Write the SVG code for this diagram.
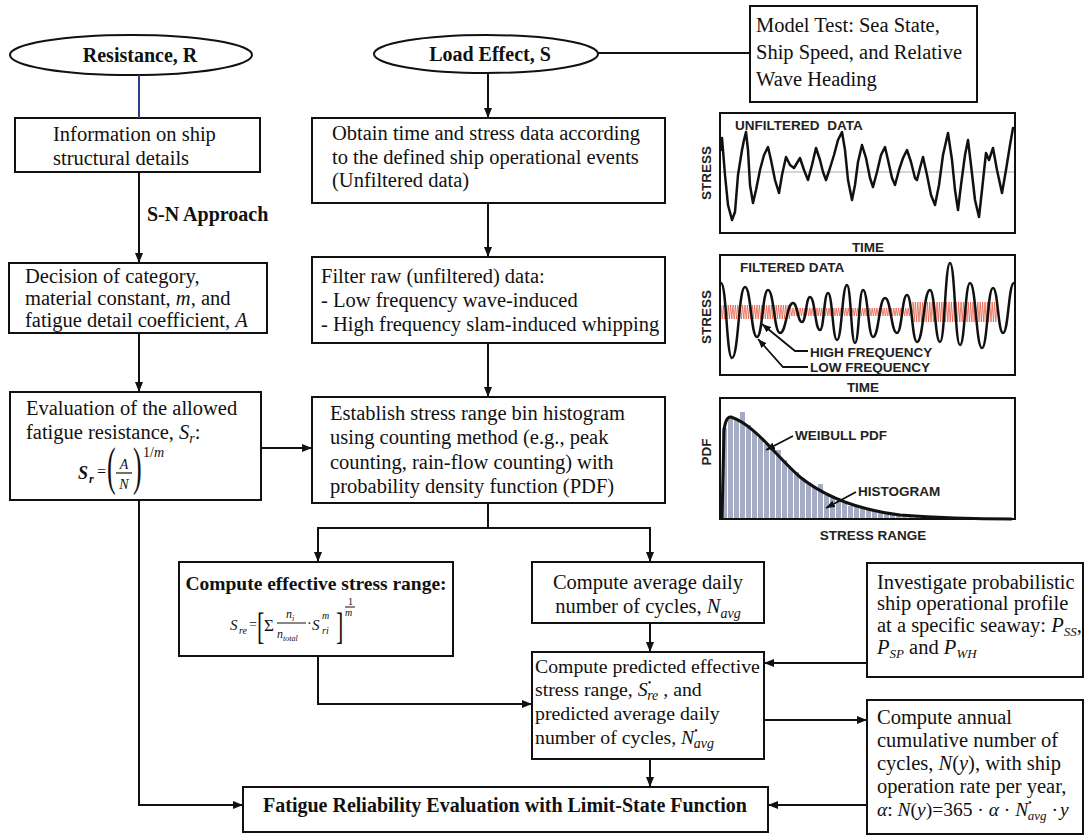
<svg xmlns="http://www.w3.org/2000/svg" width="1086" height="838" viewBox="0 0 1086 838">
<defs>
<marker id="ah" markerUnits="userSpaceOnUse" markerWidth="10" markerHeight="8" refX="10" refY="4" orient="auto"><path d="M0,0 L10,4 L0,8 z" fill="#111"/></marker>
<marker id="ahs" markerUnits="userSpaceOnUse" markerWidth="9" markerHeight="7" refX="9" refY="3.5" orient="auto"><path d="M0,0 L9,3.5 L0,7 z" fill="#111"/></marker>
</defs>
<style>
.box{fill:#fff;stroke:#111;stroke-width:2}
.t{font-family:"Liberation Serif","Times New Roman",serif;font-size:20.5px;fill:#111}
.b{font-weight:bold}
.i{font-style:italic}
.c{font-family:"Liberation Sans",Arial,sans-serif;font-weight:bold;font-size:13.5px;fill:#222}
.conn{fill:none;stroke:#111;stroke-width:2}
.fr{fill:none;stroke:#111;stroke-width:2}
.sig{fill:none;stroke:#111;stroke-width:2.5;stroke-linejoin:round;stroke-linecap:round}
.bar{fill:#a7acc5}
</style>
<rect width="1086" height="838" fill="#fff"/>

<g id="resistance">
<ellipse class="box" cx="131" cy="55" rx="121" ry="20"/>
<text class="t b" x="140" y="62" text-anchor="middle" style="font-size:20px">Resistance, R</text>
</g>
<g id="load-effect">
<ellipse class="box" cx="486" cy="54" rx="112" ry="19"/>
<text class="t b" x="490" y="61" text-anchor="middle" style="font-size:20px">Load Effect, S</text>
</g>
<g id="model-test">
<rect class="box" x="750" y="6" width="227" height="96"/>
<text class="t" x="756" y="32">Model Test: Sea State,</text>
<text class="t" x="756" y="59">Ship Speed, and Relative</text>
<text class="t" x="756" y="86">Wave Heading</text>
</g>
<g id="info">
<rect class="box" x="15" y="118" width="245" height="54"/>
<text class="t" x="53" y="141">Information on ship</text>
<text class="t" x="53" y="165">structural details</text>
</g>
<g id="decision">
<rect class="box" x="9" y="263" width="258" height="70"/>
<text class="t" x="25" y="283">Decision of category,</text>
<text class="t" x="25" y="305">material constant, <tspan class="i">m</tspan>, and</text>
<text class="t" x="25" y="327">fatigue detail coefficient, <tspan class="i">A</tspan></text>
</g>
<g id="evaluation">
<rect class="box" x="10" y="392" width="251" height="108"/>
<text class="t" x="26" y="415">Evaluation of the allowed</text>
<text class="t" x="26" y="439">fatigue resistance, <tspan class="i">S</tspan><tspan class="i" font-size="14" dy="4">r</tspan><tspan dy="-4">:</tspan></text>
<text class="t i b" x="78" y="479" style="font-size:18px">S</text>
<text class="t i b" x="89" y="483" style="font-size:12px">r</text>
<text class="t" x="97" y="477" style="font-size:16px">=</text>
<text class="t" style="font-size:26px" transform="translate(107 484) scale(1 2)">(</text>
<text class="t i" x="124" y="469" text-anchor="middle" style="font-size:14px">A</text>
<line x1="116" y1="473" x2="132" y2="473" stroke="#111" stroke-width="1.2"/>
<text class="t i" x="124" y="489" text-anchor="middle" style="font-size:14px">N</text>
<text class="t" style="font-size:26px" transform="translate(133 484) scale(1 2)">)</text>
<text class="t" x="143" y="457" style="font-size:14px">1/<tspan class="i">m</tspan></text>
</g>
<g id="obtain">
<rect class="box" x="312" y="118" width="353" height="85"/>
<text class="t" x="332" y="140">Obtain time and stress data according</text>
<text class="t" x="332" y="164">to the defined ship operational events</text>
<text class="t" x="332" y="187">(Unfiltered data)</text>
</g>
<g id="filter">
<rect class="box" x="312" y="257" width="353" height="86"/>
<text class="t" x="321" y="283">Filter raw (unfiltered) data:</text>
<text class="t" x="321" y="307">- Low frequency wave-induced</text>
<text class="t" x="321" y="331">- High frequency slam-induced whipping</text>
</g>
<g id="establish">
<rect class="box" x="312" y="397" width="353" height="106"/>
<text class="t" x="330" y="420">Establish stress range bin histogram</text>
<text class="t" x="330" y="444">using counting method (e.g., peak</text>
<text class="t" x="330" y="469">counting, rain-flow counting) with</text>
<text class="t" x="330" y="493">probability density function (PDF)</text>
</g>
<g id="effective">
<rect class="box" x="179" y="562" width="274" height="94"/>
<text class="t b" x="316" y="590" text-anchor="middle" style="font-size:19.5px">Compute effective stress range:</text>
<text class="t i" x="230" y="630" style="font-size:15px">S</text>
<text class="t i" x="239" y="634" style="font-size:10px">re</text>
<text class="t" x="249" y="629" style="font-size:14px">=</text>
<text class="t" style="font-size:22px" transform="translate(257 639) scale(1 1.7)">[</text>
<text class="t" x="264" y="631" style="font-size:17px">Σ</text>
<text class="t i" x="286" y="618" style="font-size:12px">n<tspan font-size="8" dy="3">i</tspan></text>
<line x1="277" y1="623" x2="306" y2="623" stroke="#111" stroke-width="1"/>
<text class="t i" x="277" y="638" style="font-size:12px">n<tspan font-size="8" dy="3">total</tspan></text>
<text class="t" x="307" y="628" style="font-size:14px">·</text>
<text class="t i" x="312" y="630" style="font-size:15px">S</text>
<text class="t i" x="322" y="619" style="font-size:10px">m</text>
<text class="t i" x="322" y="634" style="font-size:10px">ri</text>
<text class="t" style="font-size:22px" transform="translate(336 639) scale(1 1.7)">]</text>
<text class="t" x="348" y="605" style="font-size:10px">1</text>
<line x1="345" y1="607" x2="355" y2="607" stroke="#111" stroke-width="1"/>
<text class="t i" x="345" y="616" style="font-size:10px">m</text>
</g>
<g id="average">
<rect class="box" x="532" y="562" width="232" height="61"/>
<text class="t" x="648" y="589" text-anchor="middle">Compute average daily</text>
<text class="t" x="648" y="613" text-anchor="middle">number of cycles, <tspan class="i">N</tspan><tspan class="i" font-size="14" dy="5">avg</tspan></text>
</g>
<g id="predicted">
<rect class="box" x="532" y="652" width="232" height="107"/>
<text class="t" x="535" y="673" style="font-size:19.8px">Compute predicted effective</text>
<text class="t" x="535" y="696" style="font-size:19.8px">stress range, <tspan class="i">S</tspan><tspan font-size="10" dy="-10">•</tspan><tspan class="i" font-size="14" dx="-4" dy="14">re</tspan><tspan dy="-4"> , and</tspan></text>
<text class="t" x="535" y="720" style="font-size:19.8px">predicted average daily</text>
<text class="t" x="535" y="744" style="font-size:19.8px">number of cycles, <tspan class="i">N</tspan><tspan font-size="10" dy="-10">•</tspan><tspan class="i" font-size="14" dx="-4" dy="14">avg</tspan></text>
</g>
<g id="investigate">
<rect class="box" x="867" y="563" width="216" height="114"/>
<text class="t" x="877" y="589">Investigate probabilistic</text>
<text class="t" x="877" y="610">ship operational profile</text>
<text class="t" x="877" y="632">at a specific seaway: <tspan class="i">P</tspan><tspan class="i" font-size="13" dy="4">SS</tspan><tspan dy="-4">,</tspan></text>
<text class="t" x="877" y="654"><tspan class="i">P</tspan><tspan class="i" font-size="13" dy="4">SP</tspan><tspan dy="-4"> and </tspan><tspan class="i">P</tspan><tspan class="i" font-size="13" dy="4">WH</tspan></text>
</g>
<g id="annual">
<rect class="box" x="867" y="700" width="216" height="134"/>
<text class="t" x="877" y="724">Compute annual</text>
<text class="t" x="877" y="747">cumulative number of</text>
<text class="t" x="877" y="770">cycles, <tspan class="i">N</tspan>(<tspan class="i">y</tspan>), with ship</text>
<text class="t" x="877" y="793">operation rate per year,</text>
<text class="t" x="877" y="816" style="font-size:19.5px"><tspan class="i">α</tspan>: <tspan class="i">N</tspan>(<tspan class="i">y</tspan>)=365 · <tspan class="i">α</tspan> · <tspan class="i">N</tspan><tspan font-size="10" dy="-10">•</tspan><tspan class="i" font-size="13" dx="-4" dy="14">avg</tspan><tspan dy="-4"> ·</tspan><tspan class="i" dx="2">y</tspan></text>
</g>
<g id="fatigue">
<rect class="box" x="243" y="787" width="525" height="45"/>
<text class="t b" x="505" y="812" text-anchor="middle" style="font-size:20px">Fatigue Reliability Evaluation with Limit-State Function</text>
</g>

<g id="chart-unfiltered">
<line x1="721" y1="172" x2="1014" y2="172" stroke="#aaa" stroke-width="1"/>
<polyline class="sig" points="721,150 722,138 725,175 728,205 732,220 735,212 738,175 742,150 744,140 746,132 748,150 750,185 753,203 756,190 760,170 764,155 768,147 771,160 775,180 779,193 782,175 786,157 790,165 794,168 800,158 804,170 808,180 812,165 816,148 820,160 823,172 826,180 830,168 834,155 838,140 842,132 845,150 848,180 852,200 855,185 858,162 862,145 866,158 870,178 873,187 877,172 881,155 885,147 888,160 892,178 895,185 899,170 903,158 907,150 911,162 915,178 917,180 920,168 923,157 927,175 931,195 935,205 939,185 943,155 948,133 952,160 955,190 958,210 961,185 965,155 968,140 971,165 975,200 979,217 982,190 986,153 989,160 993,148 997,170 1002,193 1006,170 1010,145 1013,128"/>
<rect class="fr" x="720" y="113" width="295" height="120"/>
<text class="c" x="735" y="130" word-spacing="4">UNFILTERED DATA</text>
<text class="c" transform="translate(711 173) rotate(-90)" text-anchor="middle">STRESS</text>
<text class="c" x="868" y="252" text-anchor="middle">TIME</text>
</g>

<g id="chart-filtered">
<path fill="none" stroke="#e8533a" stroke-width="0.9" opacity="0.8" d="M721 305 l1.2 14 l1.2 -14 l1.2 14 l1.2 -14 l1.2 14 l1.2 -14 l1.2 14 l1.2 -14 l1.2 14 l1.2 -14 l1.2 14 l1.2 -14 l1.2 14 l1.2 -14 l1.2 14 l1.2 -14 l1.2 14 l1.2 -14 l1.2 14 l1.2 -14 l1.2 14 l1.2 -14 l1.2 14 l1.2 -14 l1.2 14 l1.2 -14 l1.2 14 l1.2 -14 l1.2 14 l1.2 -14 l1.2 14 l1.2 -14 l1.2 14 l1.2 -14 l1.2 14 l1.2 -14 l1.2 14 l1.2 -14 l1.2 14 l1.2 -14 l1.2 14 l1.2 -14 l1.2 14 l1.2 -14 l1.2 14 l1.2 -14 l1.2 14 l1.2 -14 l1.2 14 l1.2 -14 l1.2 14 l1.2 -14 l1.2 14 l1.2 -14 l1.2 14 l1.2 -14 l1.2 14 l1.2 -14 l0 3 l1.2 8 l1.2 -8 l1.2 8 l1.2 -8 l1.2 8 l1.2 -8 l1.2 8 l1.2 -8 l1.2 8 l1.2 -8 l1.2 8 l1.2 -8 l1.2 8 l1.2 -8 l1.2 8 l1.2 -8 l1.2 8 l1.2 -8 l1.2 8 l1.2 -8 l1.2 8 l1.2 -8 l1.2 8 l1.2 -8 l1.2 8 l1.2 -8 l1.2 8 l1.2 -8 l1.2 8 l1.2 -8 l1.2 8 l1.2 -8 l1.2 8 l1.2 -8 l1.2 8 l1.2 -8 l1.2 8 l1.2 -8 l1.2 8 l1.2 -8 l1.2 8 l1.2 -8 l1.2 8 l1.2 -8 l1.2 8 l1.2 -8 l1.2 8 l1.2 -8 l1.2 8 l1.2 -8 l1.2 8 l1.2 -8 l1.2 8 l1.2 -8 l1.2 8 l1.2 -8 l1.2 8 l1.2 -8 l1.2 8 l1.2 -8 l1.2 8 l1.2 -8 l1.2 8 l1.2 -8 l1.2 8 l1.2 -8 l1.2 8 l1.2 -8 l1.2 8 l1.2 -8 l1.2 8 l1.2 -8 l1.2 8 l1.2 -8 l1.2 8 l1.2 -8 l1.2 8 l1.2 -8 l1.2 8 l1.2 -8 l1.2 8 l1.2 -8 l1.2 8 l1.2 -8 l1.2 8 l1.2 -8 l1.2 8 l1.2 -8 l1.2 8 l1.2 -8 l1.2 8 l1.2 -8 l1.2 8 l1.2 -8 l1.2 8 l1.2 -8 l1.2 8 l1.2 -8 l1.2 8 l1.2 -8 l1.2 8 l1.2 -8 l0 -6 l1.2 20 l1.2 -20 l1.2 20 l1.2 -20 l1.2 20 l1.2 -20 l1.2 20 l1.2 -20 l1.2 20 l1.2 -20 l1.2 20 l1.2 -20 l1.2 20 l1.2 -20 l1.2 20 l1.2 -20 l1.2 20 l1.2 -20 l1.2 20 l1.2 -20 l1.2 20 l1.2 -20 l1.2 20 l1.2 -20 l1.2 20 l1.2 -20 l1.2 20 l1.2 -20 l1.2 20 l1.2 -20 l1.2 20 l1.2 -20 l1.2 20 l1.2 -20 l1.2 20 l1.2 -20 l1.2 20 l1.2 -20 l1.2 20 l1.2 -20 l1.2 20 l1.2 -20 l1.2 20 l1.2 -20 l1.2 20 l1.2 -20 l1.2 20 l1.2 -20 l1.2 20 l1.2 -20 l1.2 20 l1.2 -20 l1.2 20 l1.2 -20 l1.2 20 l1.2 -20 l1.2 20 l1.2 -20 l1.2 20 l1.2 -20 l1.2 20 l1.2 -20 l1.2 20 l1.2 -20 l1.2 20 l1.2 -20 l1.2 20 l1.2 -20 l1.2 20 l1.2 -20"/>
<path class="sig" d="M721 283 C726.5 283 726.5 358 732 358 C738.5 358 738.5 287 745 287 C751 287 751 337 757 337 C762.5 337 762.5 290 768 290 C774 290 774 333 780 333 C786.5 333 786.5 303 793 303 C797.5 303 797.5 322 802 322 C806 322 806 297 810 297 C815 297 815 330 820 330 C824 330 824 293 828 293 C832.5 293 832.5 340 837 340 C842 340 842 285 847 285 C851 285 851 343 855 343 C859 343 859 290 863 290 C868 290 868 337 873 337 C879 337 879 298 885 298 C891 298 891 333 897 333 C902 333 902 295 907 295 C912 295 912 342 917 342 C923.5 342 923.5 290 930 290 C935 290 935 342 940 342 C945 342 945 263 950 263 C955 263 955 345 960 345 C965 345 965 283 970 283 C976 283 976 348 982 348 C987.5 348 987.5 288 993 288 C998 288 998 333 1003 333 C1008.5 333 1008.5 283 1014 283"/>
<rect class="fr" x="720" y="255" width="295" height="120"/>
<path d="M808 351 L795 351 L762 324" fill="none" stroke="#111" stroke-width="1.8" marker-end="url(#ahs)"/>
<path d="M808 367 L783 367 L758 339" fill="none" stroke="#111" stroke-width="1.8" marker-end="url(#ahs)"/>
<text class="c" x="740" y="272">FILTERED DATA</text>
<text class="c" x="810" y="357">HIGH FREQUENCY</text>
<text class="c" x="810" y="372">LOW FREQUENCY</text>
<text class="c" transform="translate(711 317) rotate(-90)" text-anchor="middle">STRESS</text>
<text class="c" x="863" y="392" text-anchor="middle">TIME</text>
</g>

<g id="chart-pdf">
<rect class="bar" x="722" y="428" width="5" height="91"/>
<rect class="bar" x="728" y="417" width="5" height="102"/>
<rect class="bar" x="734" y="419" width="5" height="100"/>
<rect class="bar" x="740" y="412" width="5" height="107"/>
<rect class="bar" x="746" y="425" width="5" height="94"/>
<rect class="bar" x="752" y="432" width="5" height="87"/>
<rect class="bar" x="758" y="438" width="5" height="81"/>
<rect class="bar" x="764" y="444" width="5" height="75"/>
<rect class="bar" x="770" y="448" width="5" height="71"/>
<rect class="bar" x="776" y="450" width="5" height="69"/>
<rect class="bar" x="782" y="460" width="5" height="59"/>
<rect class="bar" x="788" y="468" width="5" height="51"/>
<rect class="bar" x="794" y="472" width="5" height="47"/>
<rect class="bar" x="800" y="478" width="5" height="41"/>
<rect class="bar" x="806" y="482" width="5" height="37"/>
<rect class="bar" x="812" y="487" width="5" height="32"/>
<rect class="bar" x="818" y="484" width="5" height="35"/>
<rect class="bar" x="824" y="495" width="5" height="24"/>
<rect class="bar" x="830" y="498" width="5" height="21"/>
<rect class="bar" x="836" y="501" width="5" height="18"/>
<rect class="bar" x="842" y="503" width="5" height="16"/>
<rect class="bar" x="848" y="506" width="5" height="13"/>
<rect class="bar" x="854" y="507" width="5" height="12"/>
<rect class="bar" x="860" y="509" width="5" height="10"/>
<rect class="bar" x="866" y="510" width="5" height="9"/>
<rect class="bar" x="872" y="511" width="5" height="8"/>
<rect class="bar" x="878" y="512" width="5" height="7"/>
<rect class="bar" x="884" y="513" width="5" height="6"/>
<rect class="bar" x="890" y="514" width="5" height="5"/>
<rect class="bar" x="896" y="514" width="5" height="5"/>
<rect class="bar" x="902" y="515" width="5" height="4"/>
<rect class="bar" x="908" y="515" width="5" height="4"/>
<rect class="bar" x="914" y="516" width="5" height="3"/>
<rect class="bar" x="920" y="515" width="5" height="4"/>
<rect class="bar" x="926" y="516" width="5" height="3"/>
<rect class="bar" x="932" y="516" width="5" height="3"/>
<rect class="bar" x="938" y="517" width="5" height="2"/>
<rect class="bar" x="944" y="517" width="5" height="2"/>
<rect class="bar" x="950" y="517" width="5" height="2"/>
<rect class="bar" x="956" y="517" width="5" height="2"/>
<rect class="bar" x="962" y="518" width="5" height="1"/>
<rect class="bar" x="968" y="518" width="5" height="1"/>
<rect class="bar" x="974" y="518" width="5" height="1"/>
<rect class="bar" x="980" y="518" width="5" height="1"/>
<path d="M722 519 L724 430 Q726 416 731 417 C755 425 775 455 800 477 C825 497 860 510 900 515 C940 518 980 519 1012 519" fill="none" stroke="#111" stroke-width="3" stroke-linejoin="round"/>
<rect class="fr" x="720" y="398" width="295" height="121"/>
<path d="M793 436 L766 450" fill="none" stroke="#111" stroke-width="1.8" marker-end="url(#ahs)"/>
<path d="M856 492 L826 508" fill="none" stroke="#111" stroke-width="1.8" marker-end="url(#ahs)"/>
<text class="c" x="795" y="440">WEIBULL PDF</text>
<text class="c" x="858" y="496">HISTOGRAM</text>
<text class="c" transform="translate(711 452) rotate(-90)" text-anchor="middle">PDF</text>
<text class="c" x="873" y="540" text-anchor="middle">STRESS RANGE</text>
</g>

<g id="connectors">
<path d="M139 75 V118" fill="none" stroke="#2b3f8f" stroke-width="2"/>
<path class="conn" d="M139 172 V263" marker-end="url(#ah)"/>
<text class="t b" x="147" y="221" style="font-size:20px">S-N Approach</text>
<path class="conn" d="M139 333 V392" marker-end="url(#ah)"/>
<path class="conn" d="M261 448 H312" marker-end="url(#ah)"/>
<path class="conn" d="M139 500 V805 H243" marker-end="url(#ah)"/>
<path class="conn" d="M598 53 H750"/>
<path class="conn" d="M488 73 V118" marker-end="url(#ah)"/>
<path class="conn" d="M488 203 V257" marker-end="url(#ah)"/>
<path class="conn" d="M488 343 V397" marker-end="url(#ah)"/>
<path class="conn" d="M488 503 V528 H318 V562" marker-end="url(#ah)"/>
<path class="conn" d="M488 528 H650 V562" marker-end="url(#ah)"/>
<path class="conn" d="M318 656 V704 H532" marker-end="url(#ah)"/>
<path class="conn" d="M650 623 V652" marker-end="url(#ah)"/>
<path class="conn" d="M867 663 H764" marker-end="url(#ah)"/>
<path class="conn" d="M764 720 H867" marker-end="url(#ah)"/>
<path class="conn" d="M650 759 V787" marker-end="url(#ah)"/>
<path class="conn" d="M867 805 H768" marker-end="url(#ah)"/>
</g>
</svg>
